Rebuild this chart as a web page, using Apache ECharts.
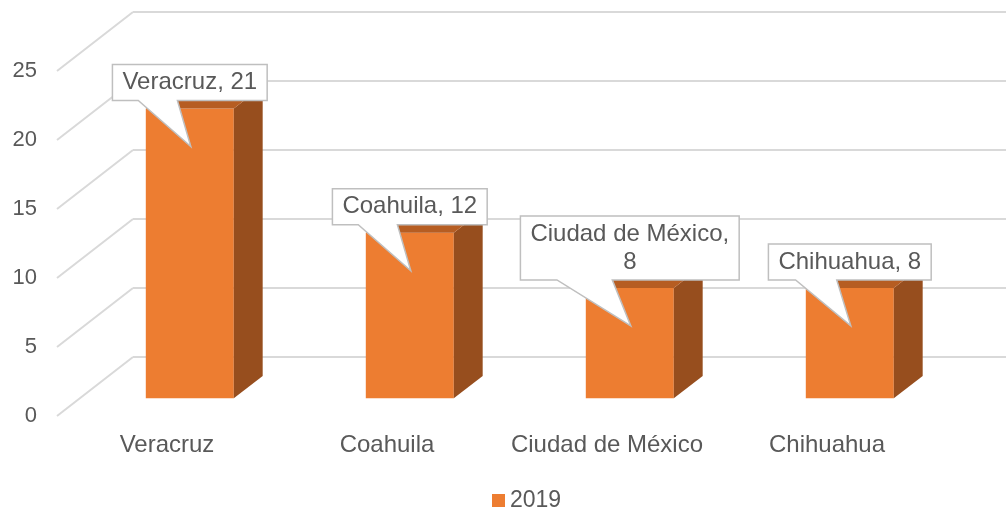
<!DOCTYPE html>
<html>
<head>
<meta charset="utf-8">
<script src="https://cdn.jsdelivr.net/npm/echarts@6/dist/echarts.min.js"></script>
<style>
  html, body { margin: 0; padding: 0; background: #fff; }
  #chart { width: 1006px; height: 512px; }
</style>
</head>
<body>
<div id="chart"></div>
<script>
// datos
const categories = ['Veracruz', 'Coahuila', 'Ciudad de México', 'Chihuahua']
const values2019 = [21, 12, 8, 8]
const yTicks = [0, 5, 10, 15, 20, 25]
const seriesName = '2019'

const FONT = '"Liberation Sans", Arial, sans-serif'
const TEXT_COLOR = '#595959'
const GRID_COLOR = '#d9d9d9'
// profundidad del piso (pixeles) desde el borde frontal a la pared del fondo
const DX = 76
const DY = -59
const D0 = 0.3 // cara frontal de la barra
const D1 = 0.68 // cara trasera de la barra
const BAR_RATIO = 0.4
const LABEL_SIZE = 24

const measureCtx = document.createElement('canvas').getContext('2d')
measureCtx.font = LABEL_SIZE + 'px ' + FONT

function labelText (i) {
  const t = categories[i] + ', ' + values2019[i]
  return t.length > 16 ? categories[i] + ',\n' + values2019[i] : t
}

// lineas diagonales de la pared lateral
function renderSideLines (params, api) {
  const y = api.coord([0, api.value(0)])[1]
  const x = params.coordSys.x
  return {
    type: 'line',
    shape: { x1: x, y1: y, x2: x - DX, y2: y - DY },
    style: { stroke: GRID_COLOR, lineWidth: 2 }
  }
}

function renderBar (params, api) {
  const i = api.value(0)
  const v = api.value(1)
  const base = api.coord([i, 0])
  const top = api.coord([i, v])
  const w = api.size([1, 0])[0] * BAR_RATIO
  const x0 = base[0] + DX * D0 - w / 2
  const x1 = x0 + w
  const yb = base[1] + DY * D0
  const yt = top[1] + DY * D0
  const ddx = DX * (D1 - D0)
  const ddy = DY * (D1 - D0)

  // globo de la etiqueta
  const text = labelText(i)
  const lines = text.split('\n')
  const tw = Math.max(...lines.map(l => measureCtx.measureText(l).width))
  const lineH = 28
  const bw = tw + 20
  const bh = lines.length * lineH + 8
  const cx = (x0 + x1) / 2
  const B = yt - 8
  const T = B - bh
  const L = cx - bw / 2
  const R = cx + bw / 2
  const tip = [cx + 1, yt + 38]

  return {
    type: 'group',
    children: [
      { type: 'rect', shape: { x: x0, y: yt, width: w, height: yb - yt }, style: { fill: '#ed7d31' } },
      { type: 'polygon', shape: { points: [[x1, yb], [x1 + ddx, yb + ddy], [x1 + ddx, yt + ddy], [x1, yt]] }, style: { fill: '#974e1e' } },
      { type: 'polygon', shape: { points: [[x0, yt], [x1, yt], [x1 + ddx, yt + ddy], [x0 + ddx, yt + ddy]] }, style: { fill: '#b65d22' } },
      {
        type: 'polygon',
        z2: 10,
        shape: { points: [[L, T], [R, T], [R, B], [L + bw * 0.42, B], tip, [L + bw * 0.167, B], [L, B]] },
        style: { fill: '#fff', stroke: '#bfbfbf', lineWidth: 1.5 }
      },
      {
        type: 'text',
        z2: 11,
        style: {
          text: text,
          x: cx,
          y: (T + B) / 2,
          align: 'center',
          verticalAlign: 'middle',
          lineHeight: lineH,
          fontSize: LABEL_SIZE,
          fontFamily: FONT,
          fill: TEXT_COLOR
        }
      }
    ]
  }
}

const chart = echarts.init(document.getElementById('chart'))
const option = {
  animation: false,
  color: ['#ed7d31'],
  grid: [
    // pared del fondo
    { left: 133, top: 12, width: 880, height: 345, outerBoundsMode: 'none' },
    // plano frontal
    { left: 57, top: 71, width: 880, height: 345, outerBoundsMode: 'none' }
  ],
  xAxis: [
    { gridIndex: 0, type: 'category', data: categories, show: false },
    {
      gridIndex: 1,
      type: 'category',
      data: categories,
      axisLine: { show: false },
      axisTick: { show: false },
      axisLabel: { interval: 0, hideOverlap: false, fontSize: 24, fontFamily: FONT, color: TEXT_COLOR, margin: 17 }
    }
  ],
  yAxis: [
    {
      gridIndex: 0,
      type: 'value',
      min: 0,
      max: 25,
      interval: 5,
      axisLabel: { show: false },
      axisLine: { show: false },
      axisTick: { show: false },
      splitLine: { lineStyle: { color: GRID_COLOR, width: 2 } }
    },
    {
      gridIndex: 1,
      type: 'value',
      min: 0,
      max: 25,
      interval: 5,
      axisLine: { show: false },
      axisTick: { show: false },
      splitLine: { show: false },
      axisLabel: { fontSize: 22, fontFamily: FONT, color: TEXT_COLOR, margin: 20 }
    }
  ],
  legend: {
    data: [seriesName],
    left: 487,
    top: 484,
    icon: 'rect',
    itemWidth: 13,
    itemHeight: 13,
    textStyle: { fontSize: 23, fontFamily: FONT, color: TEXT_COLOR }
  },
  series: [
    {
      type: 'custom',
      name: 'grid-side',
      xAxisIndex: 0,
      yAxisIndex: 0,
      silent: true,
      data: yTicks.map(t => [t]),
      encode: { y: 0 },
      renderItem: renderSideLines
    },
    {
      type: 'custom',
      name: seriesName,
      xAxisIndex: 1,
      yAxisIndex: 1,
      z: 5,
      itemStyle: { color: '#ed7d31' },
      data: values2019.map((v, i) => [i, v]),
      encode: { x: 0, y: 1 },
      renderItem: renderBar
    }
  ]
}
chart.setOption(option)
</script>
</body>
</html>
